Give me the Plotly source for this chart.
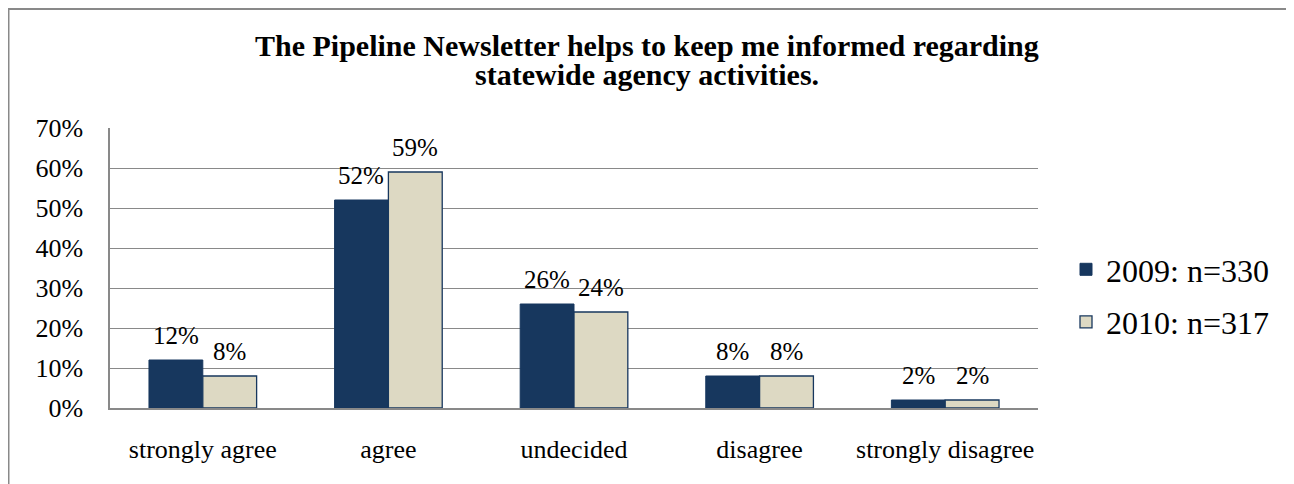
import plotly.graph_objects as go

categories = ["strongly agree", "agree", "undecided", "disagree", "strongly disagree"]
series_2009 = [12, 52, 26, 8, 2]
series_2010 = [8, 59, 24, 8, 2]
name_2009 = "2009: n=330"
name_2010 = "2010: n=317"
y_ticks = [0, 10, 20, 30, 40, 50, 60, 70]
y_tick_labels = [f"{v}%" for v in y_ticks]
title_lines = ["The Pipeline Newsletter helps to keep me informed regarding",
               "statewide agency activities."]

FONT = "Liberation Serif"
DARK = "#17375E"
LIGHT = "#DDD9C3"
GRID = "#898989"

W, H = 1294, 484
L, R, T, B = 102, 264, 120, 84
pw, ph = W - L - R, H - T - B
BARGAP = 0.42


def px_x(px):
    return (px - L) / pw


def px_y(py):
    return (H - B - py) / ph


fig = go.Figure()
fig.add_trace(go.Bar(
    x=categories, y=series_2009, name=name_2009, legendgroup="a",
    marker=dict(color=DARK, line=dict(color=DARK, width=1)),
))
fig.add_trace(go.Bar(
    x=categories, y=series_2010, name=name_2010, legendgroup="b",
    marker=dict(color=LIGHT, line=dict(color=DARK, width=1.3)),
))

# data labels above each bar
bar_px = pw / len(categories) * (1 - BARGAP) / 2
for series, sign in ((series_2009, -1), (series_2010, 1)):
    for c, v in zip(categories, series):
        fig.add_annotation(x=c, y=v, xref="x", yref="y", text=f"{v}%",
                           showarrow=False, yanchor="bottom", xanchor="center",
                           xshift=sign * bar_px / 2, yshift=9,
                           font=dict(family=FONT, size=25, color="black"))

# title as two tightly spaced lines
for i, line in enumerate(title_lines):
    fig.add_annotation(x=px_x(647 - 8), y=px_y(46 - 8 + 28 * i), xref="paper", yref="paper",
                       text=f"<b>{line}</b>", showarrow=False,
                       xanchor="center", yanchor="middle", borderpad=0,
                       font=dict(family=FONT, size=30, color="black"))

fig.update_layout(
    width=W, height=H,
    margin=dict(l=L, r=R, t=T, b=B),
    paper_bgcolor="white", plot_bgcolor="white",
    barmode="group", bargap=BARGAP, bargroupgap=0,
    font=dict(family=FONT, color="black"),
    legend=dict(x=px_x(1058), y=px_y(234), xanchor="left", yanchor="top",
                font=dict(family=FONT, size=32, color="black"),
                traceorder="grouped", tracegroupgap=8, itemwidth=30,
                bgcolor="rgba(0,0,0,0)"),
    xaxis=dict(showgrid=False, showline=True, linecolor=GRID, linewidth=1.5,
               ticks="", tickfont=dict(family=FONT, size=26), ticklabelstandoff=17),
    yaxis=dict(range=[0, 70], tickvals=y_ticks, ticktext=y_tick_labels,
               showgrid=True, gridcolor=GRID, gridwidth=1.2,
               showline=True, linecolor=GRID, linewidth=1.5,
               zeroline=False, ticks="", tickfont=dict(family=FONT, size=26),
               ticklabelstandoff=20),
    showlegend=True,
)
fig.add_shape(type="rect", xref="paper", yref="paper",
              x0=px_x(0.5), x1=px_x(1285),
              y0=px_y(540), y1=px_y(1),
              line=dict(color=GRID, width=2), fillcolor="rgba(0,0,0,0)", layer="below")

fig.write_html("out.html")
